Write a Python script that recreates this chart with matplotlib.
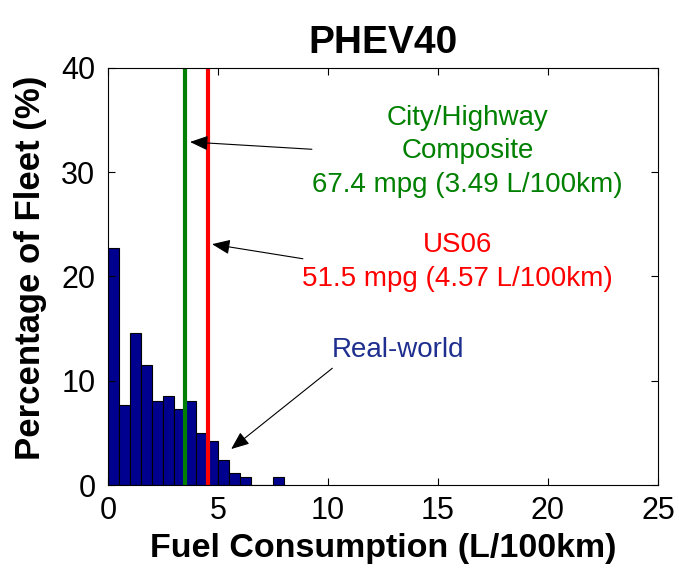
import matplotlib
matplotlib.use('Agg')
import matplotlib.pyplot as plt

plt.rcParams['font.family'] = ['Liberation Sans', 'DejaVu Sans']

# histogram of real-world fuel consumption (bin left edges, % of fleet)
bin_left = [0.0, 0.5, 1.0, 1.5, 2.0, 2.5, 3.0, 3.5, 4.0, 4.5, 5.0, 5.5, 6.0, 6.5, 7.0, 7.5]
pct = [22.7, 7.7, 14.6, 11.5, 8.1, 8.5, 7.3, 8.1, 5.0, 4.2, 2.4, 1.15, 0.73, 0.0, 0.0, 0.73]
bin_width = 0.5

composite_lkm = 3.49
us06_lkm = 4.57

green = '#008000'
red = '#ff0000'
navy = '#00008f'

fig = plt.figure(figsize=(6.79, 5.71), dpi=100)
ax = fig.add_axes([0.159, 0.1506, 0.81, 0.7304])

ax.bar(bin_left, pct, width=bin_width, align='edge', color=navy, edgecolor='black', linewidth=0.8)
ax.axvline(composite_lkm, color=green, linewidth=3)
ax.axvline(us06_lkm, color=red, linewidth=3)

ax.set_xlim(0, 25)
ax.set_ylim(0, 40)
ax.set_xticks([0, 5, 10, 15, 20, 25])
ax.set_yticks([0, 10, 20, 30, 40])
ax.tick_params(direction='in', top=True, right=True, labelsize=22, length=5)
ax.tick_params(axis='x', pad=8)
ax.tick_params(axis='y', pad=9)

ax.set_title('PHEV40', fontsize=28, fontweight='bold', pad=11)
ax.set_xlabel('Fuel Consumption (L/100km)', fontsize=24.5, fontweight='bold', labelpad=5)
ax.set_ylabel('Percentage of Fleet (%)', fontsize=25, fontweight='bold', labelpad=6)
ax.yaxis.set_label_coords(-0.11, 0.52)

arrow = dict(arrowstyle='-|>,head_length=1.1,head_width=0.45', color='black', lw=0.8, shrinkA=0, shrinkB=0)

ax.text(16.35, 32.0, 'City/Highway\nComposite\n67.4 mpg (3.49 L/100km)', color=green,
        fontsize=20, ha='center', va='center', linespacing=1.37)
ax.annotate('', xy=(3.73, 32.9), xytext=(9.27, 32.2), arrowprops=arrow)

ax.text(15.9, 21.4, 'US06\n51.5 mpg (4.57 L/100km)', color=red,
        fontsize=20, ha='center', va='center', linespacing=1.37)
ax.annotate('', xy=(4.73, 23.1), xytext=(8.86, 21.7), arrowprops=arrow)

ax.text(13.2, 12.95, 'Real-world', color='#1f2f8f', fontsize=20, ha='center', va='center')
ax.annotate('', xy=(5.6, 3.45), xytext=(10.2, 11.2), arrowprops=arrow)

fig.savefig('out.png', dpi=100)
